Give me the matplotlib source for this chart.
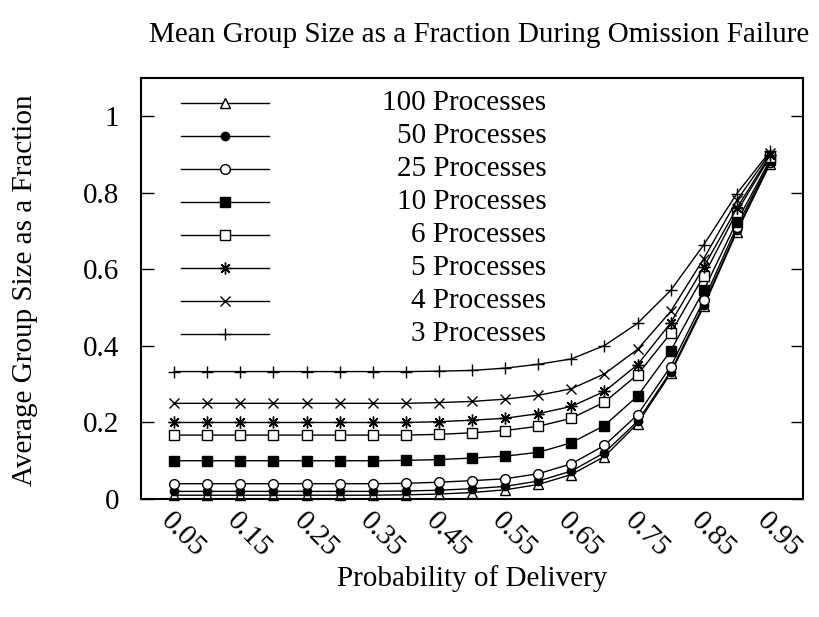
import numpy as np
import matplotlib
matplotlib.use("Agg")
import matplotlib.pyplot as plt
from matplotlib.lines import Line2D

plt.rcParams['font.family'] = ['Liberation Serif', 'DejaVu Serif']

# probability of delivery
p = [0.05, 0.10, 0.15, 0.20, 0.25, 0.30, 0.35, 0.40, 0.45, 0.50,
     0.55, 0.60, 0.65, 0.70, 0.75, 0.80, 0.85, 0.90, 0.95]

# mean group size (fraction) per process count
procs_100 = [0.010, 0.010, 0.010, 0.010, 0.010, 0.010, 0.010, 0.011, 0.013, 0.017,
             0.024, 0.038, 0.064, 0.111, 0.197, 0.328, 0.503, 0.698, 0.875]
procs_50 = [0.020, 0.020, 0.020, 0.020, 0.020, 0.020, 0.020, 0.021, 0.023, 0.027,
            0.033, 0.047, 0.073, 0.121, 0.203, 0.333, 0.508, 0.702, 0.877]
procs_25 = [0.040, 0.040, 0.040, 0.040, 0.040, 0.040, 0.040, 0.041, 0.044, 0.048,
            0.053, 0.066, 0.092, 0.140, 0.220, 0.346, 0.519, 0.712, 0.880]
procs_10 = [0.100, 0.100, 0.100, 0.100, 0.100, 0.100, 0.100, 0.101, 0.103, 0.107,
            0.112, 0.122, 0.147, 0.192, 0.269, 0.387, 0.545, 0.725, 0.885]
procs_6 = [0.167, 0.167, 0.167, 0.167, 0.167, 0.167, 0.167, 0.167, 0.169, 0.173,
           0.179, 0.190, 0.211, 0.253, 0.325, 0.433, 0.583, 0.750, 0.894]
procs_5 = [0.200, 0.200, 0.200, 0.200, 0.200, 0.200, 0.200, 0.200, 0.202, 0.206,
           0.211, 0.223, 0.242, 0.281, 0.351, 0.460, 0.606, 0.760, 0.898]
procs_4 = [0.250, 0.250, 0.250, 0.250, 0.250, 0.250, 0.250, 0.250, 0.252, 0.255,
           0.261, 0.271, 0.288, 0.327, 0.391, 0.490, 0.628, 0.780, 0.903]
procs_3 = [0.333, 0.333, 0.333, 0.333, 0.333, 0.333, 0.333, 0.333, 0.334, 0.336,
           0.342, 0.352, 0.366, 0.401, 0.459, 0.545, 0.664, 0.798, 0.908]

labels = ['100 Processes', '50 Processes', '25 Processes', '10 Processes',
          '6 Processes', '5 Processes', '4 Processes', '3 Processes']
series = [procs_100, procs_50, procs_25, procs_10, procs_6, procs_5, procs_4, procs_3]

# marker, size, face colour
styles = [('^', 6.5, 'white'),
          ('o', 6.0, 'black'),
          ('o', 7.0, 'white'),
          ('s', 6.5, 'black'),
          ('s', 7.0, 'white'),
          ((8, 2, 0), 8.5, 'black'),
          ('x', 7.5, 'black'),
          ('+', 8.5, 'black')]

xticks = [0.05, 0.15, 0.25, 0.35, 0.45, 0.55, 0.65, 0.75, 0.85, 0.95]
yticks = [0, 0.2, 0.4, 0.6, 0.8, 1.0]
ytick_labels = ['0', '0.2', '0.4', '0.6', '0.8', '1']

FS = 21

fig = plt.figure(figsize=(8.19, 6.17), dpi=100)
ax = fig.add_axes([0.1722, 0.1912, 0.8083, 0.6824])

for vals, (mk, ms, fc) in zip(series, styles):
    ax.plot(p, vals, color='black', lw=1.0, marker=mk, markersize=ms,
            markerfacecolor=fc, markeredgecolor='black', markeredgewidth=1.0,
            clip_on=False)

ax.set_xlim(0, 1)
ax.set_ylim(0, 1.1)
ax.set_xticks(xticks)
ax.set_xticklabels([f'{v:.2f}' for v in xticks], rotation=-45, ha='left',
                   va='top', rotation_mode='anchor', fontsize=FS)
ax.set_yticks(yticks)
ax.set_yticklabels(ytick_labels, fontsize=FS)
ax.tick_params(axis='x', length=0, pad=6)
ax.tick_params(axis='y', direction='in', length=9, width=1.0, pad=15.5,
               right=True)
for s in ax.spines.values():
    s.set_linewidth(1.5)

# hand-drawn key: sample on the left, right-justified text
key_y = [0.9406, 0.8620, 0.7835, 0.7050, 0.6265, 0.5480, 0.4695, 0.3910]
for yk, lab, (mk, ms, fc) in zip(key_y, labels, styles):
    ax.add_line(Line2D([0.0604, 0.193], [yk, yk], transform=ax.transAxes,
                       color='black', lw=1.0))
    ax.add_line(Line2D([0.127], [yk], transform=ax.transAxes, color='black',
                       marker=mk, markersize=ms, markerfacecolor=fc,
                       markeredgecolor='black', markeredgewidth=1.0))
    ax.text(0.612, yk, lab, transform=ax.transAxes, ha='right', va='center',
            fontsize=FS)

fig.text(0.585, 0.944, 'Mean Group Size as a Fraction During Omission Failure',
         ha='center', va='center', fontsize=FS)
fig.text(0.576, 0.063, 'Probability of Delivery', ha='center', va='center',
         fontsize=FS)
fig.text(0.030, 0.53, 'Average Group Size as a Fraction', ha='center',
         va='center', rotation=90, fontsize=FS)

fig.savefig('out.png', dpi=100)
